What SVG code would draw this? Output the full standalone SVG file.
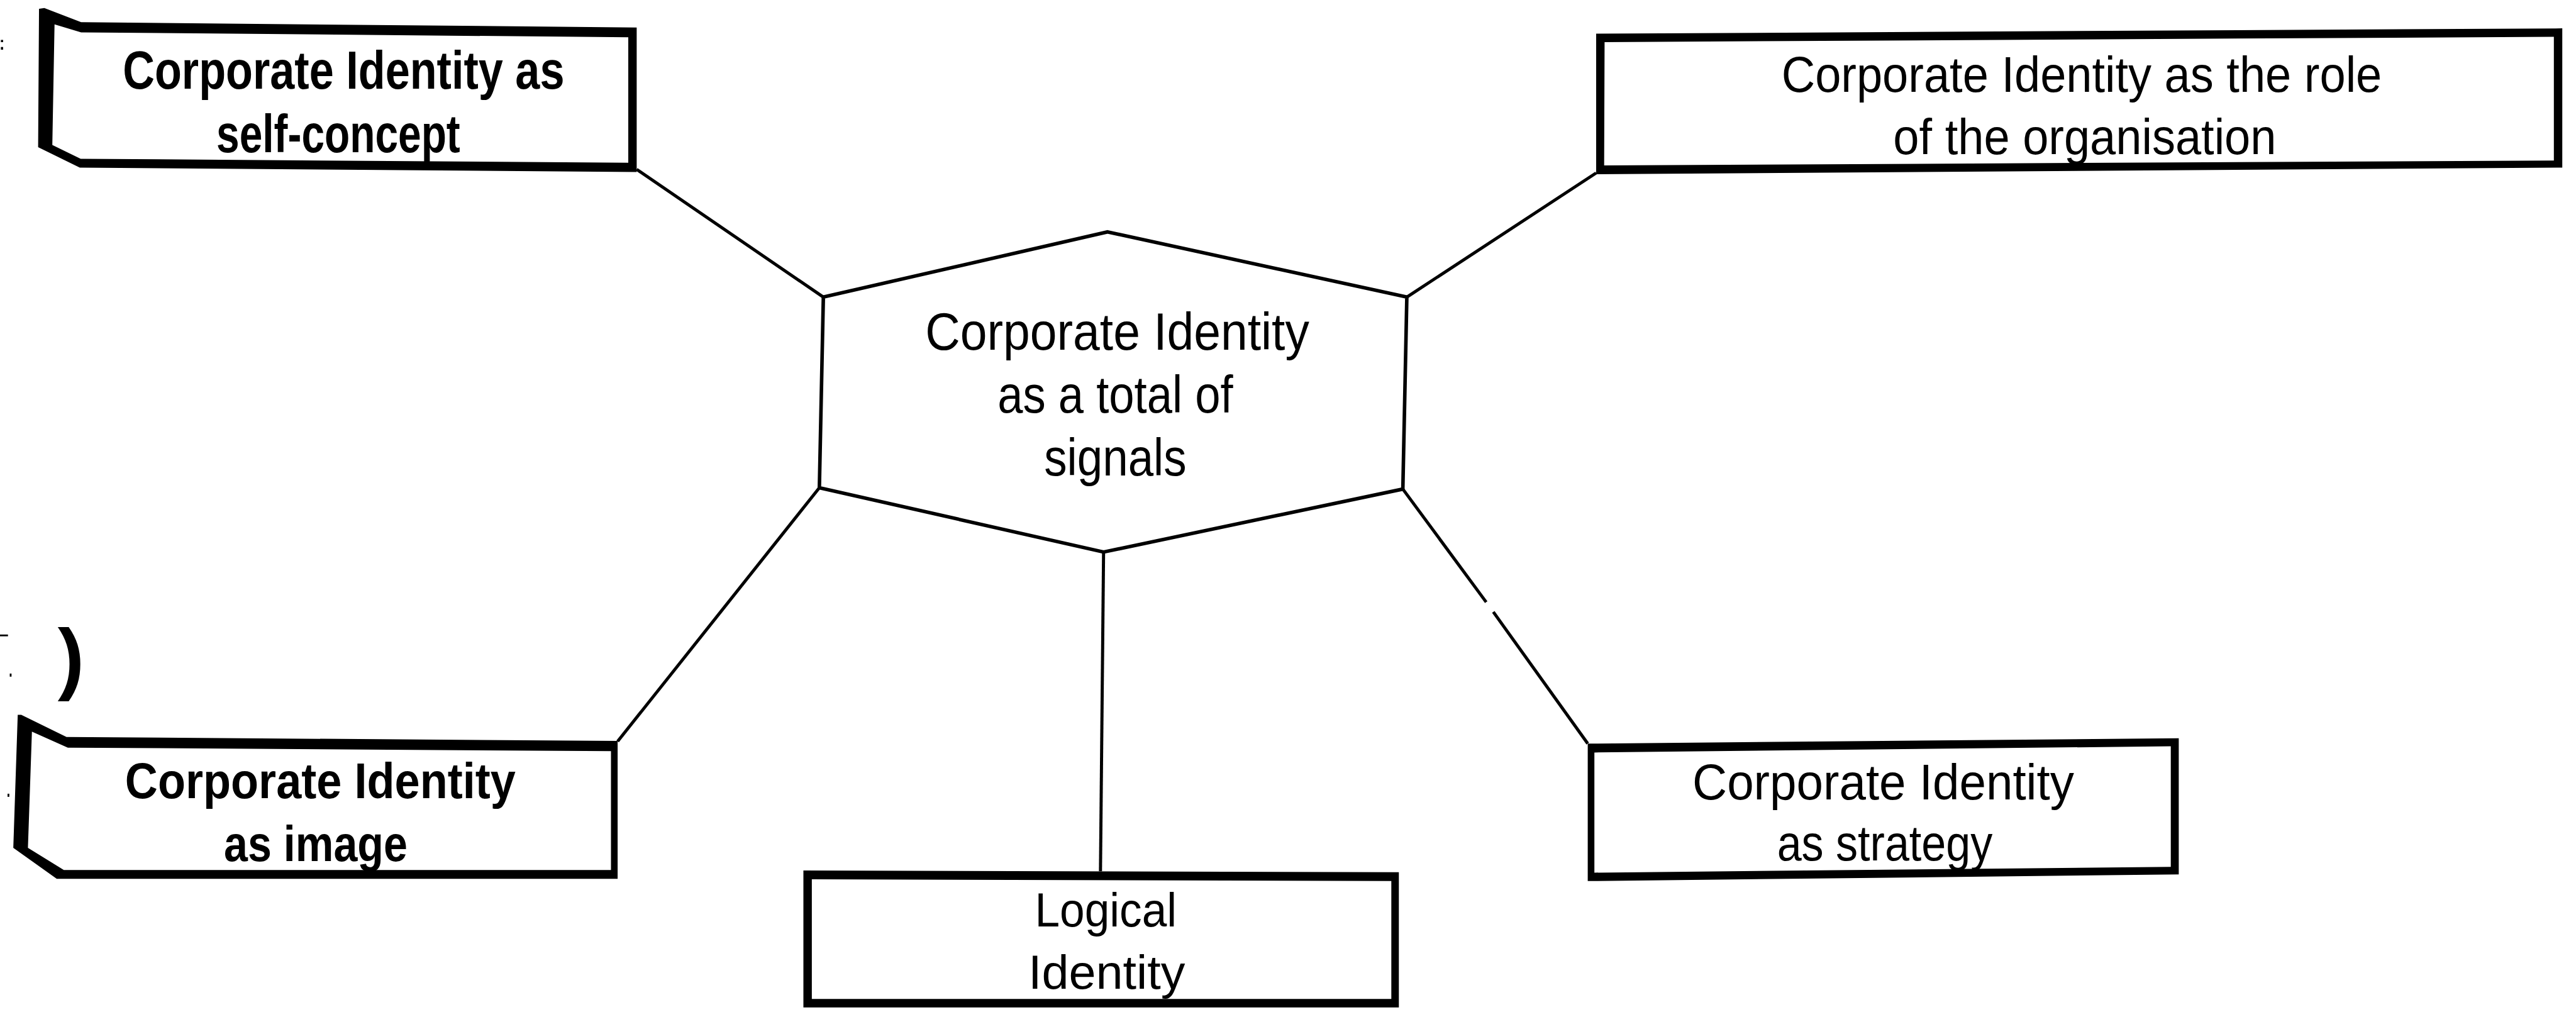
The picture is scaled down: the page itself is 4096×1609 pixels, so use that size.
<svg xmlns="http://www.w3.org/2000/svg" width="4096" height="1609" viewBox="0 0 4096 1609">
  <style>
    .frame { fill: #000; fill-rule: evenodd; }
    .hex { fill: none; stroke: #000; stroke-width: 8; stroke-linejoin: miter; }
    .link { fill: none; stroke: #000; stroke-width: 7; stroke-linecap: butt; }
    .lbl { font-family: "Liberation Sans", Arial, sans-serif; fill: #000; }
    .bold { font-weight: bold; }
    .speck { fill: #000; }
  </style>
  <rect width="4096" height="1609" fill="#fff"/>
  <!-- drawn in source units, scaled down to the window -->
  <g transform="scale(0.705)">
    <g id="connectors">
      <path class="link" d="M1436,382 L1857,670"/>
      <path class="link" d="M3600,390 L3173,670"/>
      <path class="link" d="M1848,1100 L1393,1672"/>
      <path class="link" d="M2489,1245 L2482,1965"/>
      <path class="link" d="M3164,1103 L3352,1358"/>
      <path class="link" d="M3368,1380 L3581,1677"/>
    </g>

    <g id="node-signals">
      <polygon class="hex" points="2498,523 3173,670 3164,1103 2489,1245 1848,1100 1857,670"/>
      <text class="lbl" style="font-size:117px" x="2087" y="789" textLength="866" lengthAdjust="spacingAndGlyphs">Corporate Identity</text>
      <text class="lbl" style="font-size:117px" x="2250" y="930" textLength="531" lengthAdjust="spacingAndGlyphs">as a total of</text>
      <text class="lbl" style="font-size:117px" x="2355" y="1073" textLength="321" lengthAdjust="spacingAndGlyphs">signals</text>
    </g>

    <g id="node-self-concept">
      <path class="frame" d="M88,20 L100,18 L183,50 L1436,62 L1436,388 L180,378 L86,332 Z
                             M123,55 L183,73 L1417,84 L1417,367 L182,358 L118,327 Z"/>
      <text class="lbl bold" style="font-size:120px" x="277" y="200" textLength="996" lengthAdjust="spacingAndGlyphs">Corporate Identity as</text>
      <text class="lbl bold" style="font-size:120px" x="488" y="343" textLength="550" lengthAdjust="spacingAndGlyphs">self-concept</text>
    </g>

    <g id="node-role">
      <path class="frame" d="M3600,76 L5779,64 L5779,378 L3600,393 Z
                             M3619,95 L5760,83 L5760,362 L3618,373 Z"/>
      <text class="lbl" style="font-size:112px" x="4018" y="207" textLength="1354" lengthAdjust="spacingAndGlyphs">Corporate Identity as the role</text>
      <text class="lbl" style="font-size:112px" x="4270" y="347" textLength="864" lengthAdjust="spacingAndGlyphs">of the organisation</text>
    </g>

    <g id="node-image">
      <path class="frame" d="M40,1612 L48,1612 L150,1662 L1393,1671 L1393,1982 L128,1982 L30,1912 Z
                             M72,1650 L153,1686 L1378,1694 L1378,1962 L144,1962 L63,1912 Z"/>
      <text class="lbl bold" style="font-size:112px" x="282" y="1800" textLength="881" lengthAdjust="spacingAndGlyphs">Corporate Identity</text>
      <text class="lbl bold" style="font-size:112px" x="505" y="1942" textLength="414" lengthAdjust="spacingAndGlyphs">as image</text>
    </g>

    <g id="node-logical">
      <path class="frame" d="M1812,1963 L3155,1967 L3155,2272 L1812,2272 Z
                             M1831,1983 L3138,1987 L3138,2253 L1831,2253 Z"/>
      <text class="lbl" style="font-size:108px" x="2334" y="2090" textLength="320" lengthAdjust="spacingAndGlyphs">Logical</text>
      <text class="lbl" style="font-size:108px" x="2319" y="2230" textLength="354" lengthAdjust="spacingAndGlyphs">Identity</text>
    </g>

    <g id="node-strategy">
      <path class="frame" d="M3581,1677 L4914,1665 L4914,1972 L3581,1987 Z
                             M3596,1697 L4896,1683 L4896,1955 L3596,1968 Z"/>
      <text class="lbl" style="font-size:112px" x="3817" y="1803" textLength="861" lengthAdjust="spacingAndGlyphs">Corporate Identity</text>
      <text class="lbl" style="font-size:112px" x="4008" y="1940" textLength="486" lengthAdjust="spacingAndGlyphs">as strategy</text>
    </g>

    <!-- marks in the left margin -->
    <text class="lbl bold" style="font-size:180px" x="130" y="1545">)</text>
    <rect class="speck" x="2" y="90" width="5" height="5"/>
    <rect class="speck" x="2" y="106" width="5" height="6"/>
    <rect class="speck" x="0" y="1431" width="18" height="4"/>
    <rect class="speck" x="22" y="1519" width="4" height="7"/>
    <rect class="speck" x="17" y="1790" width="4" height="7"/>
  </g>
</svg>
